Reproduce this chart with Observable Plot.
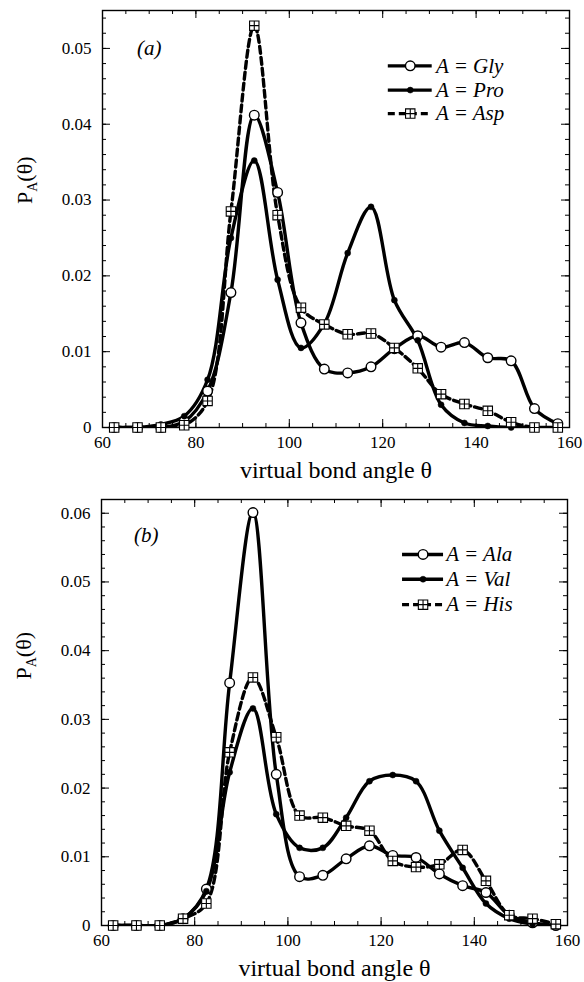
<!DOCTYPE html>
<html><head><meta charset="utf-8">
<script src="https://cdn.jsdelivr.net/npm/d3@7"></script>
<script src="https://cdn.jsdelivr.net/npm/@observablehq/plot@0.6"></script>
<style>body{margin:0;background:#fff}svg{display:block}</style>
</head><body><div id="chart"></div>
<script>
// bin centres of the virtual bond angle (degrees)
const theta = [62.5, 67.5, 72.5, 77.5, 82.5, 87.5, 92.5, 97.5, 102.5, 107.5, 112.5, 117.5, 122.5, 127.5, 132.5, 137.5, 142.5, 147.5, 152.5, 157.5];

// panel (a)
const gly = [0, 0, 0, 0.0008, 0.0048, 0.0178, 0.0412, 0.0310, 0.0138, 0.0077, 0.0072, 0.0080, 0.0104, 0.0121, 0.0106, 0.0112, 0.0092, 0.0088, 0.0025, 0.0005];
const pro = [0, 0, 0.0004, 0.0015, 0.0063, 0.0250, 0.0352, 0.0195, 0.0105, 0.0137, 0.0230, 0.0291, 0.0168, 0.0115, 0.0030, 0.0006, 0.0002, 0.0000, 0, 0];
const asp = [0, 0, 0, 0.0003, 0.0035, 0.0285, 0.0530, 0.0280, 0.0158, 0.0136, 0.0123, 0.0124, 0.0105, 0.0078, 0.0044, 0.0031, 0.0022, 0.0007, 0, 0];

// panel (b)
const ala = [0, 0, 0, 0.0010, 0.0053, 0.0353, 0.0601, 0.0220, 0.0071, 0.0073, 0.0097, 0.0116, 0.0102, 0.0099, 0.0075, 0.0058, 0.0048, 0.0015, 0.0004, 0];
const val = [0, 0, 0, 0.0010, 0.0050, 0.0223, 0.0316, 0.0162, 0.0113, 0.0113, 0.0157, 0.0210, 0.0219, 0.0210, 0.0138, 0.0084, 0.0032, 0.0010, 0.0002, 0];
const his = [0, 0, 0, 0.0010, 0.0032, 0.0252, 0.0361, 0.0274, 0.0160, 0.0157, 0.0145, 0.0138, 0.0094, 0.0085, 0.0089, 0.0110, 0.0065, 0.0015, 0.0010, 0.0002];

const xTicks = [60, 80, 100, 120, 140, 160];
const xMinor = [60, 65, 70, 75, 80, 85, 90, 95, 100, 105, 110, 115, 120, 125, 130, 135, 140, 145, 150, 155, 160];
const yTicksA = [0, 0.01, 0.02, 0.03, 0.04, 0.05];
const yTicksB = [0, 0.01, 0.02, 0.03, 0.04, 0.05, 0.06];
const yTickLabelsA = ["0", "0.01", "0.02", "0.03", "0.04", "0.05"];
const yTickLabelsB = ["0", "0.01", "0.02", "0.03", "0.04", "0.05", "0.06"];
const namesA = ["Gly", "Pro", "Asp"];
const namesB = ["Ala", "Val", "His"];

const FONT = "'Liberation Serif', 'Times New Roman', serif";

const squareCross = {
  draw(ctx, size) {
    const r = Math.sqrt(size / Math.PI);
    ctx.moveTo(-r, -r); ctx.lineTo(r, -r); ctx.lineTo(r, r); ctx.lineTo(-r, r); ctx.closePath();
    ctx.moveTo(-r, 0); ctx.lineTo(r, 0);
    ctx.moveTo(0, -r); ctx.lineTo(0, r);
  }
};

const styles = [
  {dash: null, dot: {symbol: "circle", r: 4.8, fill: "white", stroke: "black", strokeWidth: 1.4}},
  {dash: null, dot: {symbol: "circle", r: 3, fill: "black", stroke: "black", strokeWidth: 0.5}},
  {dash: "7,4", dot: {symbol: squareCross, r: 4.7, fill: "white", stroke: "black", strokeWidth: 1.1}}
];

function panel(cfg) {
  const {series, names, yMax, yTicks, yLabels, height, mt, mb, ml, mr, tag, tagX, tagY, leg, ytDy} = cfg;
  const fw = 584 - ml - mr, fh = height - mt - mb;
  const yMinor = d3.range(0, yMax + 1e-9, 0.002);
  const marks = [];
  // ticks inside the frame on all four sides
  marks.push(
    Plot.tickX(xMinor, {x: d => d, insetTop: fh - 4, strokeWidth: 1}),
    Plot.tickX(xTicks, {x: d => d, insetTop: fh - 8, strokeWidth: 1}),
    Plot.tickX(xMinor, {x: d => d, insetBottom: fh - 4, strokeWidth: 1}),
    Plot.tickX(xTicks, {x: d => d, insetBottom: fh - 8, strokeWidth: 1}),
    Plot.tickY(yMinor, {y: d => d, insetRight: fw - 4, strokeWidth: 1}),
    Plot.tickY(yTicks, {y: d => d, insetRight: fw - 8, strokeWidth: 1}),
    Plot.tickY(yMinor, {y: d => d, insetLeft: fw - 4, strokeWidth: 1}),
    Plot.tickY(yTicks, {y: d => d, insetLeft: fw - 8, strokeWidth: 1}),
    Plot.frame({stroke: "black", strokeWidth: 1.4})
  );
  // tick labels
  marks.push(
    Plot.text(xTicks, {x: d => d, frameAnchor: "bottom", dy: 15, lineAnchor: "middle", fontSize: 17, fill: "black"}),
    Plot.text(yTicks, {y: d => d, text: (d, i) => yLabels[i], frameAnchor: "left", dx: -11, textAnchor: "end", lineAnchor: "middle", fontSize: 17, fill: "black"}),
    Plot.text(["virtual bond angle θ"], {frameAnchor: "bottom", dy: 50, lineAnchor: "bottom", fontSize: 24, fill: "black"}),
    Plot.text(["PA(θ)"], {frameAnchor: "left", dx: -78, dy: ytDy, rotate: -90, fontSize: 22, fill: "black", lineAnchor: "middle"}),
    Plot.text([tag], {x: tagX, y: tagY, textAnchor: "start", fontStyle: "italic", fontSize: 21, fill: "black"})
  );
  // curves
  series.forEach((vals, k) => {
    const rows = theta.map((t, i) => ({t, p: vals[i]}));
    marks.push(Plot.line(rows, {x: "t", y: "p", curve: "catmull-rom", stroke: "black", strokeWidth: 3.4, strokeDasharray: styles[k].dash, clip: true}));
  });
  // markers
  series.forEach((vals, k) => {
    const rows = theta.map((t, i) => ({t, p: vals[i]}));
    marks.push(Plot.dot(rows, {x: "t", y: "p", ...styles[k].dot}));
  });
  // legend
  names.forEach((n, k) => {
    const y = leg.y[k];
    marks.push(
      Plot.ruleY([y], {x1: leg.x1, x2: leg.x2, stroke: "black", strokeWidth: 3.4, strokeDasharray: styles[k].dash}),
      Plot.dot([y], {x: (leg.x1 + leg.x2) / 2, y: d => d, ...styles[k].dot}),
      Plot.text([`A = ${n}`], {x: leg.xt, y: y, textAnchor: "start", lineAnchor: "middle", fontStyle: "italic", fontSize: 21, fill: "black"})
    );
  });
  const svg = Plot.plot({
    width: 584, height, marginTop: mt, marginBottom: mb, marginLeft: ml, marginRight: mr,
    x: {domain: [60, 160], axis: null},
    y: {domain: [0, yMax], axis: null},
    style: {fontFamily: FONT, color: "black", background: "white", overflow: "visible"},
    marks
  });
  // subscript in the y title
  d3.select(svg).selectAll("text").filter(function() { return this.textContent === "PA(θ)"; }).each(function() {
    const t = d3.select(this);
    t.text(null);
    t.append("tspan").text("P");
    t.append("tspan").attr("dy", 5).attr("font-size", 14).text("A");
    t.append("tspan").attr("dy", -5).text("(θ)");
  });
  return svg;
}

const chart = document.getElementById("chart");
chart.append(panel({
  series: [gly, pro, asp], names: namesA, yMax: 0.055, yTicks: yTicksA, yLabels: yTickLabelsA,
  height: 480, mt: 10, mb: 53, ml: 102, mr: 15, tag: "(a)", tagX: 67.4, tagY: 0.0500, ytDy: -15,
  leg: {x1: 121.2, x2: 130.6, xt: 131.4, y: [0.0477, 0.0445, 0.0414]}
}));
chart.append(panel({
  series: [ala, val, his], names: namesB, yMax: 0.062, yTicks: yTicksB, yLabels: yTickLabelsB,
  height: 502, mt: 19, mb: 57, ml: 101, mr: 17, tag: "(b)", tagX: 67.0, tagY: 0.0568, ytDy: -33,
  leg: {x1: 124.6, x2: 133.4, xt: 134.0, y: [0.0540, 0.0504, 0.0467]}
}));
</script>
</body></html>
